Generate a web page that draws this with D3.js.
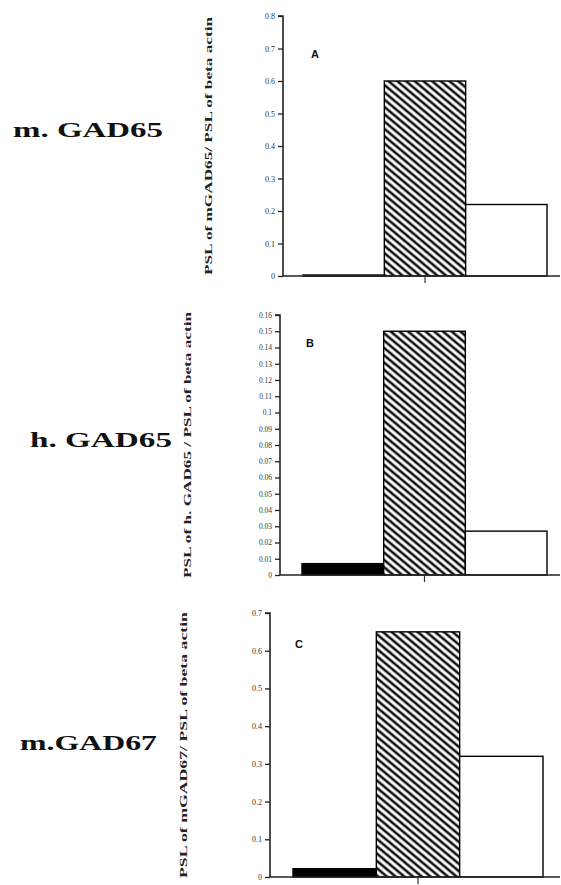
<!DOCTYPE html>
<html><head><meta charset="utf-8">
<script src="https://cdn.jsdelivr.net/npm/d3@7"></script>
<style>body{margin:0;background:#fff}svg{display:block}</style>
</head><body>
<script>
// ---- data ----
const barKeys = ["solid", "hatched", "open"];
const valuesA = [0.003, 0.60, 0.22];
const valuesB = [0.007, 0.150, 0.027];
const valuesC = [0.022, 0.65, 0.32];
const ticksA = [0, 0.1, 0.2, 0.3, 0.4, 0.5, 0.6, 0.7, 0.8];
const ticksB = [0, 0.01, 0.02, 0.03, 0.04, 0.05, 0.06, 0.07, 0.08, 0.09, 0.1, 0.11, 0.12, 0.13, 0.14, 0.15, 0.16];
const ticksC = [0, 0.1, 0.2, 0.3, 0.4, 0.5, 0.6, 0.7];
const panelLetters = ["A", "B", "C"];
const geneLabels = ["m. GAD65", "h. GAD65", "m.GAD67"];
const yTitles = ["PSL of mGAD65/ PSL of beta actin", "PSL of h. GAD65 / PSL of beta actin", "PSL of mGAD67/ PSL of beta actin"];

const W = 561, H = 885;
const svg = d3.select("body").append("svg").attr("width", W).attr("height", H);
const defs = svg.append("defs");
const pat = defs.append("pattern").attr("id", "hatch").attr("patternUnits", "userSpaceOnUse")
  .attr("width", 12).attr("height", 5.6).attr("patternTransform", "rotate(40)");
pat.append("rect").attr("width", 12).attr("height", 5.6).attr("fill", "#fff");
pat.append("line").attr("x1", 0).attr("x2", 12).attr("y1", 2.8).attr("y2", 2.8)
  .attr("stroke", "#111").attr("stroke-width", 2.6);

const fills = {solid: "#000", hatched: "url(#hatch)", open: "#fff"};

const panels = [
  {values: valuesA, ticks: ticksA, max: 0.8, axisX: 283, y0: 276, y1: 16, barL: 303, barR: 547, fmt: d => d === 0 ? "0" : d3.format(".1f")(d),
   letter: [311, 58], gene: [13, 137, 150], title: [212, 146, 258]},
  {values: valuesB, ticks: ticksB, max: 0.16, axisX: 280, y0: 575, y1: 315, barL: 302, barR: 547, fmt: d => d === 0 ? "0" : String(+d.toFixed(2)),
   letter: [306, 347, ], gene: [30, 447, 142], title: [191, 445, 266]},
  {values: valuesC, ticks: ticksC, max: 0.7, axisX: 270, y0: 877, y1: 613, barL: 293, barR: 543, fmt: d => d === 0 ? "0" : d3.format(".1f")(d),
   letter: [295, 648], gene: [20, 750, 137], title: [187, 745, 266]}
];

panels.forEach((p, i) => {
  const g = svg.append("g");
  const y = d3.scaleLinear().domain([0, p.max]).range([p.y0, p.y1]);
  const x = d3.scaleBand().domain(barKeys).range([p.barL, p.barR]).padding(0);

  // bars
  g.selectAll("rect.bar").data(barKeys.map((k, j) => ({k, v: p.values[j]}))).join("rect")
    .attr("class", "bar")
    .attr("x", d => x(d.k)).attr("width", x.bandwidth())
    .attr("y", d => y(d.v)).attr("height", d => y(0) - y(d.v))
    .attr("fill", d => fills[d.k]).attr("stroke", "#000").attr("stroke-width", 1.4);

  // y axis
  const ax = g.append("g").attr("transform", `translate(${p.axisX},0)`)
    .call(d3.axisLeft(y).tickValues(p.ticks).tickFormat(p.fmt).tickSize(5).tickPadding(3));
  ax.select(".domain").attr("stroke", "#222").attr("stroke-width", 1.6).attr("d", `M-5,${p.y1}H0V${p.y0}`);
  ax.selectAll(".tick line").attr("stroke", "#222").attr("stroke-width", 1.3);
  ax.selectAll(".tick text").attr("font-family", "Liberation Serif, serif")
    .attr("font-size", i === 1 ? 7.5 : 8).attr("fill", "#333");

  // baseline
  g.append("line").attr("x1", p.axisX).attr("x2", 560).attr("y1", y(0)).attr("y2", y(0))
    .attr("stroke", "#222").attr("stroke-width", 1.6);
  // category tick
  const cx = x("hatched") + x.bandwidth() / 2;
  g.append("line").attr("x1", cx).attr("x2", cx).attr("y1", y(0)).attr("y2", y(0) + 7)
    .attr("stroke", "#333").attr("stroke-width", 1.2);

  // panel letter
  g.append("text").attr("x", p.letter[0]).attr("y", p.letter[1]).text(panelLetters[i])
    .attr("font-family", "Liberation Sans, Arial, sans-serif").attr("font-weight", "bold")
    .attr("font-size", 11).attr("fill", "#111");

  // gene label
  g.append("text").attr("x", p.gene[0]).attr("y", p.gene[1]).text(geneLabels[i])
    .attr("font-family", "Liberation Serif, serif").attr("font-weight", "bold")
    .attr("font-size", 22).attr("fill", "#111")
    .attr("textLength", p.gene[2]).attr("lengthAdjust", "spacingAndGlyphs");

  // y title
  g.append("text").attr("transform", `translate(${p.title[0]},${p.title[1]}) rotate(-90)`)
    .attr("text-anchor", "middle").text(yTitles[i])
    .attr("font-family", "Liberation Serif, serif").attr("font-weight", "bold")
    .attr("font-size", 10).attr("fill", "#222")
    .attr("textLength", p.title[2]).attr("lengthAdjust", "spacingAndGlyphs");
});
</script>
</body></html>
